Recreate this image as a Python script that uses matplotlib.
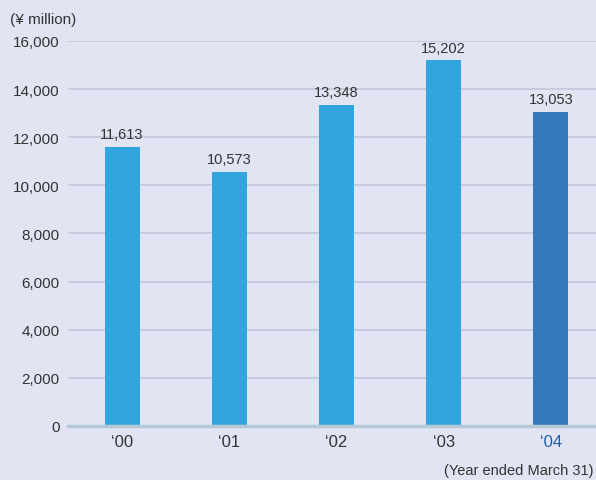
import matplotlib.pyplot as plt
import numpy as np

years  = ["\u201800", "\u201801", "\u201802", "\u201803", "\u201804"]
values = [11613, 10573, 13348, 15202, 13053]
yticks = [0, 2000, 4000, 6000, 8000, 10000, 12000, 14000, 16000]

BG       = "#e1e4f2"
BAR      = "#33a5de"
BAR_LAST = "#3478be"
GRID     = "#bfc8da"
TEXT     = "#333333"

plt.rcParams['font.family'] = ['Liberation Sans', 'DejaVu Sans']

fig = plt.figure(figsize=(5.96, 4.81), dpi=100, facecolor=BG)
ax = fig.add_axes([0.114, 0.1123, 0.886, 0.8004], facecolor=BG)

x = np.arange(len(years))
colors = [BAR] * (len(years) - 1) + [BAR_LAST]
ax.bar(x, values, width=0.327, color=colors, zorder=3)

# value labels above each bar
for xi, v in zip(x, values):
    ax.text(xi, v + 230, f"{v:,}", ha='center', va='bottom', fontsize=10.5,
            color=TEXT)

ax.set_xlim(-0.505, 4.42)
ax.set_ylim(0, 16000)
ax.set_yticks(yticks)
ax.set_yticklabels([f"{t:,}" for t in yticks])
ax.set_xticks(x)
ax.set_xticklabels(years)

for t in yticks[1:]:
    ax.axhline(t, color=GRID, linewidth=1.2, zorder=1)
ax.axhline(0, color="#b3c9d8", linewidth=2.5, zorder=4, clip_on=False)

for s in ax.spines.values():
    s.set_visible(False)
ax.tick_params(axis='both', length=0, labelsize=11, colors=TEXT)
ax.tick_params(axis='y', pad=6)
ax.tick_params(axis='x', pad=6, labelsize=12)
ax.get_xticklabels()[-1].set_color("#1f5fa8")

fig.text(10 / 596, 1 - 20 / 481, "(\u00a5 million)", fontsize=11, color=TEXT, va='center')
fig.text(594 / 596, 1 - 471 / 481, "(Year ended March 31)", fontsize=10.5, color=TEXT,
         va='center', ha='right')

fig.savefig("out.png", dpi=100, facecolor=BG)
